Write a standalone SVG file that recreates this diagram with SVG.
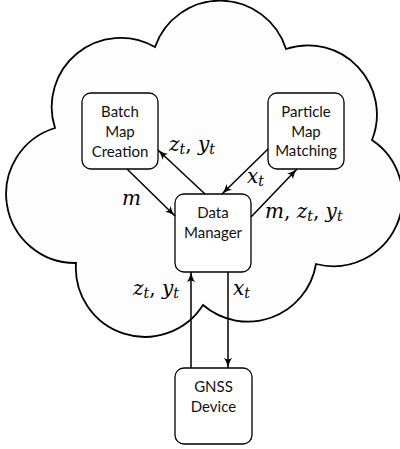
<svg xmlns="http://www.w3.org/2000/svg" width="400" height="449" viewBox="0 0 400 449">
<defs>
<style>
.cloud{fill:#fdfdfd;stroke:#000;stroke-width:1.8;stroke-linejoin:miter}
.box rect{fill:#fff;stroke:#000;stroke-width:1.3}
.box text{font-family:Lato,"Open Sans","DejaVu Sans",sans-serif;font-size:15px;fill:#111;text-anchor:middle}
.edge{fill:none;stroke:#000;stroke-width:1.5;marker-end:url(#arr)}
.math{font-family:"DejaVu Serif","Liberation Serif",serif;font-style:italic;font-size:20px;fill:#000}
.sub{font-size:14px}
.up{font-style:normal}
</style>
<marker id="arr" markerUnits="userSpaceOnUse" markerWidth="12" markerHeight="10" refX="10" refY="5" orient="auto">
<path d="M0,0.8 Q3,3.5 10,5 Q3,6.5 0,9.2 L1.8,5 Z" fill="#000"/>
</marker>
</defs>
<path class="cloud" d="M155,47 A69,69 0 0 1 286,49 A69,69 0 0 1 372,140 A69,69 0 0 1 316,264 A69,69 0 0 1 203,305 A69,69 0 0 1 76,263 A69,69 0 0 1 55,128 A69,69 0 0 1 155,47 Z"/>
<g id="batch" class="box">
<rect x="82" y="93" width="76" height="76" rx="9"/>
<text x="120" y="117">Batch</text>
<text x="120" y="137">Map</text>
<text x="120" y="157">Creation</text>
</g>
<g id="particle" class="box">
<rect x="268" y="93" width="76" height="76" rx="9"/>
<text x="306" y="117">Particle</text>
<text x="306" y="137">Map</text>
<text x="306" y="156">Matching</text>
</g>
<g id="datamanager" class="box">
<rect x="175" y="194" width="76" height="78" rx="9"/>
<text x="213" y="218">Data</text>
<text x="213" y="238">Manager</text>
</g>
<g id="gnss" class="box">
<rect x="175" y="368" width="77" height="76" rx="9"/>
<text x="213.5" y="392">GNSS</text>
<text x="213.5" y="412">Device</text>
</g>
<g id="connectors">
<path class="edge" d="M127,169 L175,216"/>
<path class="edge" d="M205,194 L158,150"/>
<path class="edge" d="M268,149 L222,194"/>
<path class="edge" d="M251,217 L297,169"/>
<path class="edge" d="M191,368 L191,272"/>
<path class="edge" d="M228,272 L228,368"/>
</g>
<g id="labels">
<text class="math" x="122" y="205">m</text>
<text class="math" x="169" y="151">z<tspan class="sub" dy="3">t</tspan><tspan class="up" dy="-3">, </tspan>y<tspan class="sub" dy="3">t</tspan></text>
<text class="math" x="247" y="183">x<tspan class="sub" dy="3">t</tspan></text>
<text class="math" x="265" y="218">m<tspan class="up">, </tspan>z<tspan class="sub" dy="3">t</tspan><tspan class="up" dy="-3">, </tspan>y<tspan class="sub" dy="3">t</tspan></text>
<text class="math" x="133" y="295">z<tspan class="sub" dy="3">t</tspan><tspan class="up" dy="-3">, </tspan>y<tspan class="sub" dy="3">t</tspan></text>
<text class="math" x="233" y="295">x<tspan class="sub" dy="3">t</tspan></text>
</g>
</svg>
